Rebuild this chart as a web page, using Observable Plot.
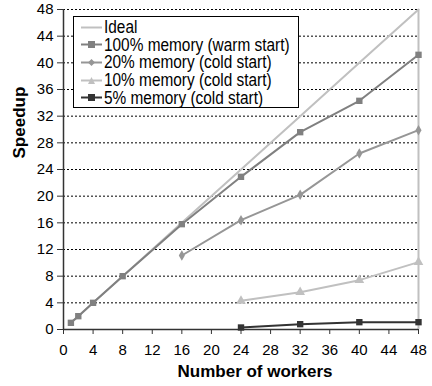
<!DOCTYPE html>
<html><head><meta charset="utf-8">
<script src="https://cdn.jsdelivr.net/npm/d3@7"></script>
<script src="https://cdn.jsdelivr.net/npm/@observablehq/plot@0.6"></script>
<style>
body{margin:0;background:#fff;font-family:"Liberation Sans",Arial,sans-serif;}
#wrap{position:relative;width:432px;height:386px;}
#legend{position:absolute;left:73px;top:16px;width:224px;height:90px;border:1px solid #000;background:#fff;box-sizing:content-box;}
.item{position:absolute;left:7px;height:18px;display:flex;align-items:center;font-size:15.4px;color:#000;white-space:nowrap;}
.item span{display:inline-block;transform:scaleY(1.15);transform-origin:center;}
.item svg{margin-right:2px;}
</style></head>
<body><div id="wrap"><div id="legend"></div></div>
<script>
const workers = [1, 2, 4, 8, 16, 24, 32, 40, 48];
const ideal = [1, 2, 4, 8, 16, 24, 32, 40, 48];
const mem100 = [1, 2, 4, 8, 15.8, 22.9, 29.6, 34.3, 41.2];
const mem20Workers = [16, 24, 32, 40, 48];
const mem20 = [11.1, 16.4, 20.2, 26.4, 29.9];
const mem10Workers = [24, 32, 40, 48];
const mem10 = [4.3, 5.6, 7.4, 10.1];
const mem5Workers = [24, 32, 40, 48];
const mem5 = [0.3, 0.8, 1.1, 1.1];
const xTicks = [0, 4, 8, 12, 16, 20, 24, 28, 32, 36, 40, 44, 48];
const yTicks = [0, 4, 8, 12, 16, 20, 24, 28, 32, 36, 40, 44, 48];
const seriesNames = ["Ideal", "100% memory (warm start)", "20% memory (cold start)", "10% memory (cold start)", "5% memory (cold start)"];

const toRows = (xs, ys) => xs.map((x, i) => ({x, y: ys[i]}));
const series = [
  {name: seriesNames[0], rows: toRows(workers, ideal), color: "#c0c0c0", symbol: null},
  {name: seriesNames[1], rows: toRows(workers, mem100), color: "#808080", symbol: "square", r: 3.6},
  {name: seriesNames[2], rows: toRows(mem20Workers, mem20), color: "#969696", symbol: "diamond", r: 3.2},
  {name: seriesNames[3], rows: toRows(mem10Workers, mem10), color: "#c0c0c0", symbol: "triangle", r: 3.6},
  {name: seriesNames[4], rows: toRows(mem5Workers, mem5), color: "#333333", symbol: "square", r: 3.6}
];

const marks = [
  Plot.ruleY(yTicks.filter(d => d > 0), {stroke: "#000", strokeDasharray: "2,2", strokeWidth: 1}),
  Plot.ruleX([48], {stroke: "#c0c0c0", strokeWidth: 2}),
  Plot.axisX({ticks: xTicks, tickSize: 5, tickPadding: 10, label: null, stroke: "#333", fill: "#000", fontSize: 15}),
  Plot.axisY({ticks: yTicks, tickSize: 6, tickPadding: 4, label: null, stroke: "#333", fill: "#000", fontSize: 15}),
  Plot.ruleX([0], {stroke: "#333", strokeWidth: 1.5}),
  Plot.ruleY([0], {stroke: "#333", strokeWidth: 1.5}),
  Plot.text(["Number of workers"], {frameAnchor: "bottom", dy: 47, dx: 14, fontWeight: "bold", fontSize: 17}),
  Plot.text(["Speedup"], {frameAnchor: "left", dx: -44, dy: -11, rotate: -90, fontWeight: "bold", fontSize: 17})
];
for (const s of series) {
  marks.push(Plot.line(s.rows, {x: "x", y: "y", stroke: s.color, strokeWidth: 2}));
  if (s.symbol) marks.push(Plot.dot(s.rows, {x: "x", y: "y", symbol: s.symbol, fill: s.color, r: s.r, stroke: "none"}));
}

const chart = Plot.plot({
  width: 432, height: 386,
  marginLeft: 63, marginRight: 14, marginTop: 9, marginBottom: 57,
  x: {domain: [0, 48]},
  y: {domain: [0, 48]},
  style: {fontFamily: "'Liberation Sans', Arial, sans-serif", fontSize: "15px", color: "#000", background: "#fff"},
  marks
});
const wrap = document.getElementById("wrap");
wrap.insertBefore(chart, wrap.firstChild);

const legend = document.getElementById("legend");
const symPath = {
  square: "M7,6 h7 v7 h-7 z",
  diamond: "M10.5,6 L14,9.5 L10.5,13 L7,9.5 z",
  triangle: "M10.5,6 L14,13 L7,13 z"
};
series.forEach((s, i) => {
  const d = document.createElement("div");
  d.className = "item";
  d.style.top = (1 + i * 17.7) + "px";
  const sym = s.symbol ? `<path d="${symPath[s.symbol]}" fill="${s.color}"/>` : "";
  d.innerHTML = `<svg width="21" height="19"><line x1="0" x2="21" y1="9.5" y2="9.5" stroke="${s.color}" stroke-width="2"/>${sym}</svg><span>${s.name}</span>`;
  legend.appendChild(d);
});
</script></body></html>
